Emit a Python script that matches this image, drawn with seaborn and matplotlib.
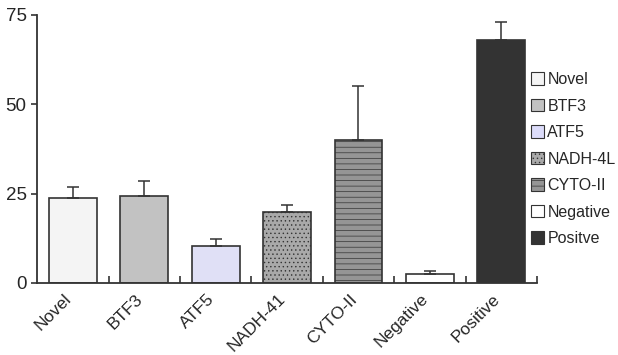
import numpy as np
import pandas as pd
import seaborn as sns
import matplotlib.pyplot as plt
import matplotlib.transforms as mtransforms
from matplotlib.patches import Patch

# data
categories = ['Novel', 'BTF3', 'ATF5', 'NADH-41', 'CYTO-II', 'Negative', 'Positive']
legend_labels = ['Novel', 'BTF3', 'ATF5', 'NADH-4L', 'CYTO-II', 'Negative', 'Positve']
values = [23.8, 24.4, 10.4, 19.9, 40.0, 2.5, 68.1]
errors = [3.1, 4.1, 1.9, 1.9, 15.2, 0.9, 5.0]

colors = ['#f4f4f4', '#c2c2c2', '#dcdcfa', '#a9a9a9', '#959595', '#ffffff', '#333333']
hatches = ['', '', '', '....', '---', '', '']

sns.set_style('ticks')
plt.rcParams['font.family'] = ['Liberation Sans', 'DejaVu Sans']
plt.rcParams['hatch.linewidth'] = 0.5

df = pd.DataFrame({'cat': categories, 'val': values})

fig = plt.figure(figsize=(6.18, 3.55), dpi=100)
ax = fig.add_axes([0.06, 0.203, 0.809, 0.755])

sns.barplot(data=df, x='cat', y='val', hue='cat', palette=colors, legend=False,
            width=0.67, edgecolor='#333333', linewidth=1.2, ax=ax)

for p, h in zip(ax.patches, hatches):
    p.set_hatch(h)

x = np.arange(len(categories))
ax.errorbar(x, values, yerr=[np.zeros(len(values)), errors], fmt='none',
            ecolor='#333333', elinewidth=1.1, capsize=4.5, capthick=1.1)

ax.set_ylim(0, 75)
ax.set_xlim(-0.5, len(categories) - 0.5)
ax.set_yticks([0, 25, 50, 75])
ax.set_xticks(x)
ax.set_xticklabels(categories, rotation=45, ha='right', rotation_mode='anchor', fontsize=12.5)
ax.tick_params(axis='x', length=0, pad=6)
ax.tick_params(axis='y', labelsize=13.5, length=4, width=1.2, color='#333333')
ax.set_xticks(np.arange(len(categories)) + 0.5, minor=True)
ax.tick_params(axis='x', which='minor', direction='in', length=5, width=1.2, color='#333333')
ax.set_xlabel('')
ax.set_ylabel('')
sns.despine(ax=ax)
for s in ['left', 'bottom']:
    ax.spines[s].set_linewidth(1.3)
    ax.spines[s].set_color('#333333')

handles = [Patch(facecolor=c, edgecolor='#333333', hatch=h, linewidth=0.8)
           for c, h in zip(colors, hatches)]
fig.legend(handles, legend_labels, loc='upper left', bbox_to_anchor=(0.86, 0.797),
           frameon=False, fontsize=11.5, handlelength=0.8, handleheight=0.8,
           handletextpad=0.2, labelspacing=0.72, borderaxespad=0, borderpad=0)

# nudge the rotated labels left, as in the original
shift = mtransforms.ScaledTranslation(-9 / 100, 0, fig.dpi_scale_trans)
for lab in ax.get_xticklabels():
    lab.set_transform(lab.get_transform() + shift)

fig.savefig('out.png', dpi=100)
